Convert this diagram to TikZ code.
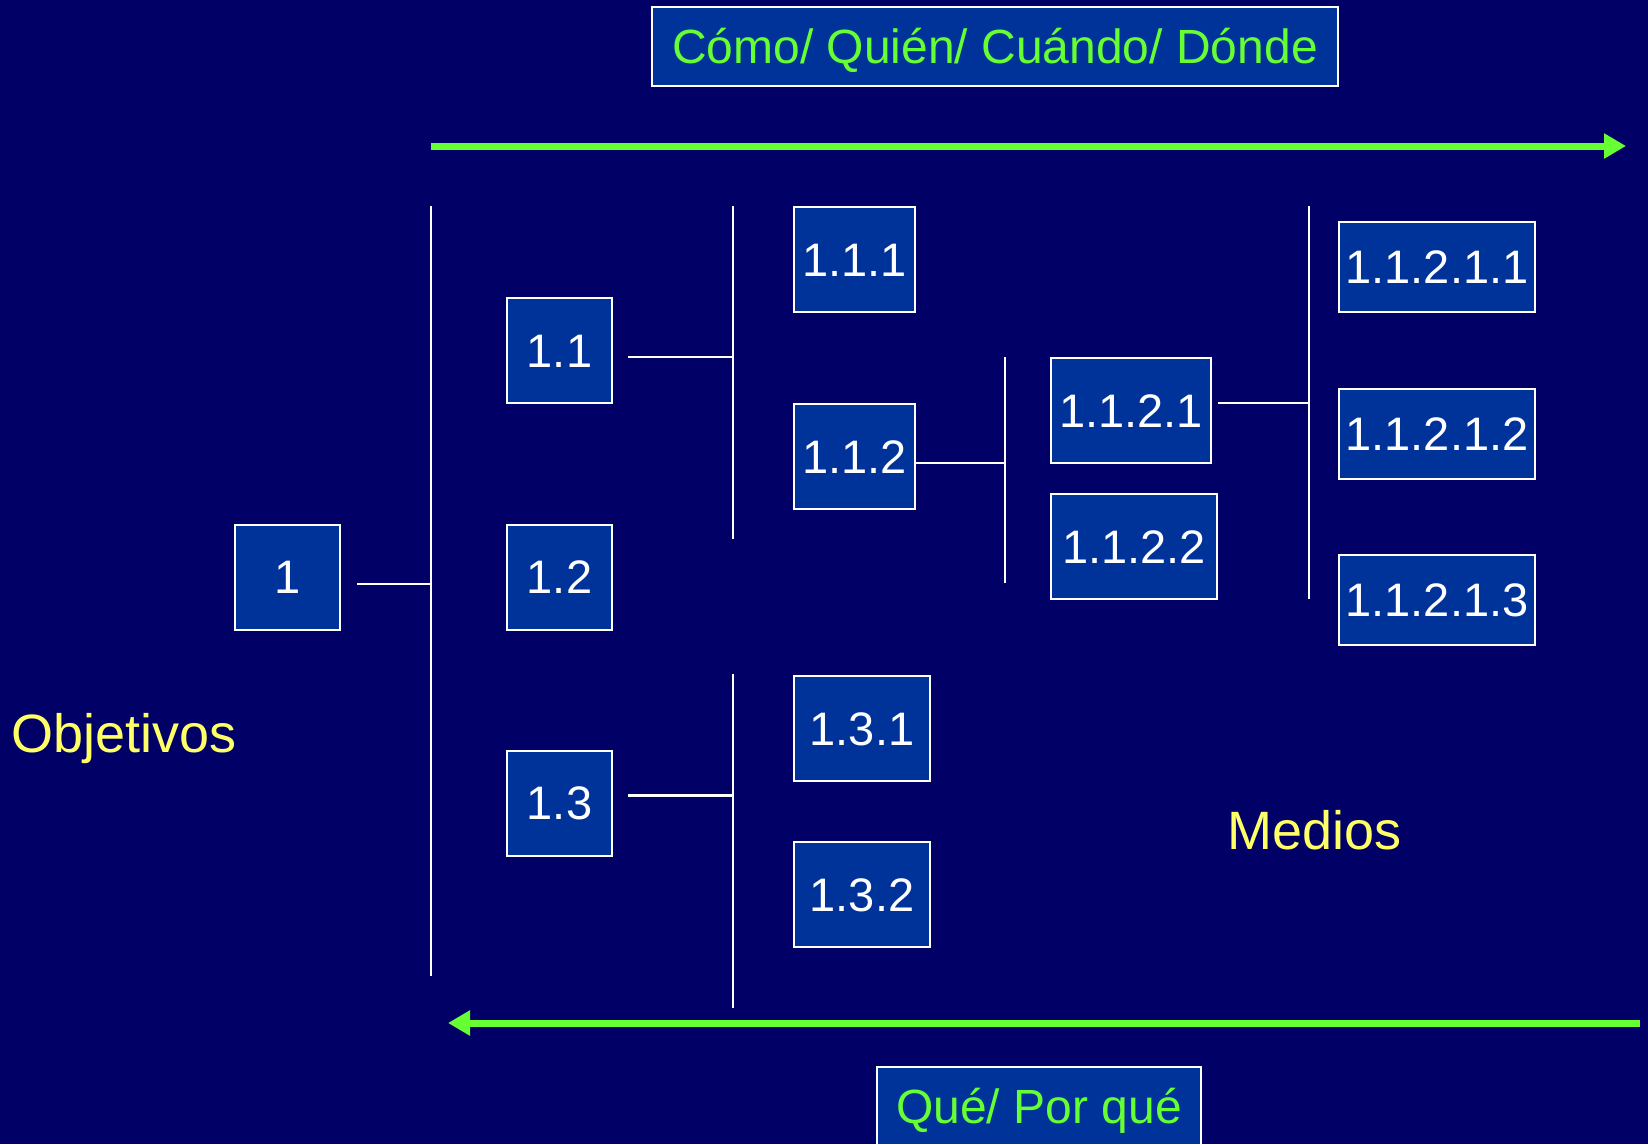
\documentclass[tikz,border=0pt]{standalone}
\usepackage{fontspec}
\setmainfont{Liberation Sans}
\usetikzlibrary{arrows.meta, positioning, calc}

\definecolor{slidebg}{HTML}{000066}
\definecolor{boxblue}{HTML}{003399}
\definecolor{arrowgreen}{HTML}{66FF33}
\definecolor{labelyellow}{HTML}{FFFF66}

\begin{document}
\begin{tikzpicture}[
        x=1pt, y=-1pt,
        >={Triangle[length=22pt, width=24pt]},
        item/.style={
            draw=white,
            line width=2pt,
            fill=boxblue,
            text=white,
            inner sep=0pt,
            minimum height=105pt,
            text height=33.7pt,
            text depth=0pt,
            font=\fontsize{47}{56}\selectfont
        },
        question/.style={
            item,
            text=arrowgreen,
            text height=34.4pt,
            font=\fontsize{48}{58}\selectfont
        },
        side/.style={
            text=labelyellow,
            inner sep=0pt,
            anchor=base west,
            font=\fontsize{54}{64}\selectfont
        },
        line/.style={draw=white, line width=2.5pt},
        flow/.style={draw=arrowgreen, line width=7pt, ->}
    ]

    % Background
    \useasboundingbox (0,0) rectangle (1648,1144);
    \clip (0,0) rectangle (1648,1144);
    \fill[slidebg] (0,0) rectangle (1648,1144);

    % Questions
    \node[question, minimum width=686pt, minimum height=79pt] (how) at (995,46.5) {Cómo/ Quién/ Cuándo/ Dónde};
    \node[question, minimum width=324pt, minimum height=78pt] (why) at (1039,1106) {Qué/ Por qué};

    \coordinate (howstart) at (431,146);
    \coordinate (howend) at (1626,146);
    \draw[flow] (howstart) -- (howend);

    \coordinate (whystart) at (1640,1023);
    \coordinate (whyend) at (448,1023);
    \draw[flow] (whystart) -- (whyend);

    % Side labels
    \node[side] (goals) at (11,752) {Objetivos};
    \node[side] (means) at (1227,849) {Medios};

    % Level 1
    \node[item, minimum width=105pt] (n1) at (287.5,577) {1};

    % Level 2
    \node[item, minimum width=105pt] (n11) at (559.5,350.5) {1.1};
    \node[item, minimum width=105pt] (n12) at (559.5,577) {1.2};
    \node[item, minimum width=105pt] (n13) at (559.5,803) {1.3};

    \coordinate (bar1top) at (431,206);
    \coordinate (bar1bot) at (431,976);
    \draw[line] (bar1top) -- (bar1bot);
    \draw[line] ([xshift=16pt,yshift=-7pt]n1.east) coordinate (n1out) -- (n1out -| bar1top);

    % Level 3
    \node[item, minimum width=121pt] (n111) at (854.5,259.5) {1.1.1};
    \node[item, minimum width=121pt] (n112) at (854.5,456.5) {1.1.2};
    \node[item, minimum width=136pt] (n131) at (862,728.5) {1.3.1};
    \node[item, minimum width=136pt] (n132) at (862,894.5) {1.3.2};

    \coordinate (bar2top) at (733,206);
    \coordinate (bar2bot) at (733,539);
    \draw[line] (bar2top) -- (bar2bot);
    \draw[line] ([xshift=15pt,yshift=-6.5pt]n11.east) coordinate (n11out) -- (n11out -| bar2top);

    \coordinate (bar3top) at (733,674);
    \coordinate (bar3bot) at (733,1008);
    \draw[line] (bar3top) -- (bar3bot);
    \draw[line] ([xshift=15pt,yshift=7.5pt]n13.east) coordinate (n13out) -- (n13out -| bar3top);

    % Level 4
    \node[item, minimum width=160pt] (n1121) at (1131,410.5) {1.1.2.1};
    \node[item, minimum width=166pt] (n1122) at (1134,546.5) {1.1.2.2};

    \coordinate (bar4top) at (1005,357);
    \coordinate (bar4bot) at (1005,583);
    \draw[line] (bar4top) -- (bar4bot);
    \draw[line] ([yshift=-6.5pt]n112.east) coordinate (n112out) -- (n112out -| bar4top);

    % Level 5
    \node[item, minimum width=196pt, minimum height=90pt] (n11211) at (1437,267) {1.1.2.1.1};
    \node[item, minimum width=196pt, minimum height=90pt] (n11212) at (1437,433.5) {1.1.2.1.2};
    \node[item, minimum width=196pt, minimum height=90pt] (n11213) at (1437,600) {1.1.2.1.3};

    \coordinate (bar5top) at (1309,206);
    \coordinate (bar5bot) at (1309,599);
    \draw[line] (bar5top) -- (bar5bot);
    \draw[line] ([xshift=6pt,yshift=7.5pt]n1121.east) coordinate (n1121out) -- (n1121out -| bar5top);

\end{tikzpicture}
\end{document}
